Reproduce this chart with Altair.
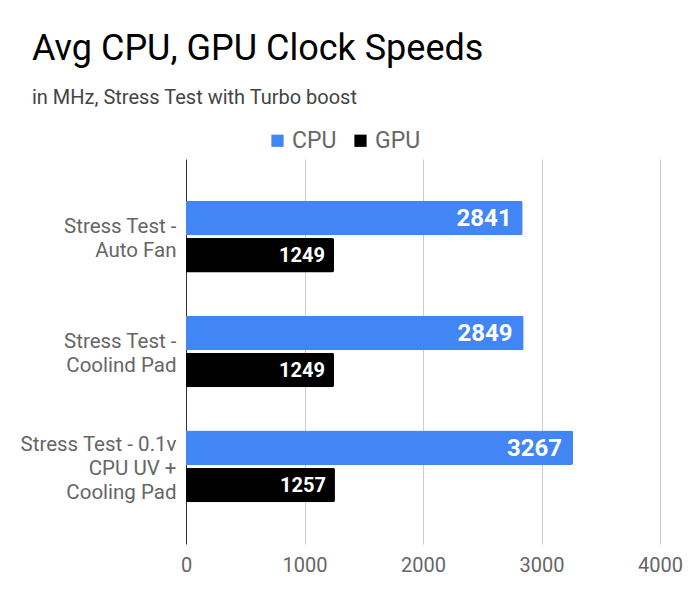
import altair as alt
import pandas as pd

categories = ["Stress Test -|Auto Fan", "Stress Test -|Coolind Pad", "Stress Test - 0.1v|CPU UV +|Cooling Pad"]
cpu = [2841, 2849, 3267]
gpu = [1249, 1249, 1257]
series = ["CPU", "GPU"]
colors = ["#4285F4", "#000000"]
x_ticks = [0, 1000, 2000, 3000, 4000]

rows = []
for c, a, b in zip(categories, cpu, gpu):
    rows.append({"test": c, "series": "CPU", "mhz": a})
    rows.append({"test": c, "series": "GPU", "mhz": b})
df = pd.DataFrame(rows)

FONT = "Roboto"

y_enc = alt.Y("test:N", sort=categories, title=None,
              scale=alt.Scale(paddingInner=0.377, paddingOuter=0.3645),
              axis=alt.Axis(labelExpr="split(datum.label, '|')", labelFontSize=20.5,
                            labelColor="#666666", labelLineHeight=24, labelPadding=10,
                            labelOffset={"condition": {"test": "length(split(datum.label, '|')) >= 3",
                                                       "value": -21.5},
                                         "value": -9.5},
                            ticks=False, domain=False, grid=False, labelLimit=300, labelFont=FONT))
yoff = alt.YOffset("series:N", sort=series,
                   scale=alt.Scale(paddingInner=0.073, paddingOuter=0))
x_enc = alt.X("mhz:Q", title=None,
              scale=alt.Scale(domain=[0, 4000], nice=False),
              axis=alt.Axis(values=x_ticks, format="d", grid=True, ticks=False, domain=False,
                            labelFontSize=20, labelColor="#666666", labelPadding=11,
                            labelFont=FONT, labelFlush=False,
                            gridColor={"condition": {"test": "datum.value === 0", "value": "#333333"},
                                       "value": "#cccccc"}))

base = alt.Chart(df)

bars = base.mark_bar(cornerRadiusEnd=2).encode(
    x=x_enc, y=y_enc, yOffset=yoff,
    color=alt.Color("series:N", sort=series,
                    scale=alt.Scale(domain=series, range=colors),
                    legend=alt.Legend(title=None, orient="none", direction="horizontal",
                                      legendX=80, legendY=-30, symbolType="square",
                                      symbolSize=150, symbolStrokeWidth=0,
                                      labelFontSize=23, labelColor="#666666",
                                      labelFont=FONT, labelOffset=3, columnPadding=12)),
)

cpu_text = base.transform_filter("datum.series == 'CPU'").mark_text(
    align="right", baseline="middle", dx=-11, dy=1, color="white",
    fontWeight="bold", fontSize=24, font=FONT).encode(
    x=x_enc, y=y_enc, yOffset=yoff, text="mhz:Q")
gpu_text = base.transform_filter("datum.series == 'GPU'").mark_text(
    align="right", baseline="middle", dx=-9, dy=1, color="white",
    fontWeight="bold", fontSize=20, font=FONT).encode(
    x=x_enc, y=y_enc, yOffset=yoff, text="mhz:Q")

chart = alt.layer(bars, cpu_text, gpu_text).properties(
    width=474, height=385,
    padding={"left": 178, "top": 151, "right": 27, "bottom": 47},
    autosize=alt.AutoSizeParams(type="none"),
    background="white",
    title=alt.TitleParams(
        text="Avg CPU, GPU Clock Speeds",
        subtitle="in MHz, Stress Test with Turbo boost",
        anchor="start", frame="group", dx=-154,
        font=FONT, fontSize=36, fontWeight="normal", color="#000000",
        subtitleFont=FONT, subtitleFontSize=20, subtitleColor="#444444",
        subtitlePadding=20, offset=20,
    ),
).configure_view(strokeWidth=0, stroke="transparent")

chart.save("out.html", embed_options={"renderer": "svg", "actions": False})
